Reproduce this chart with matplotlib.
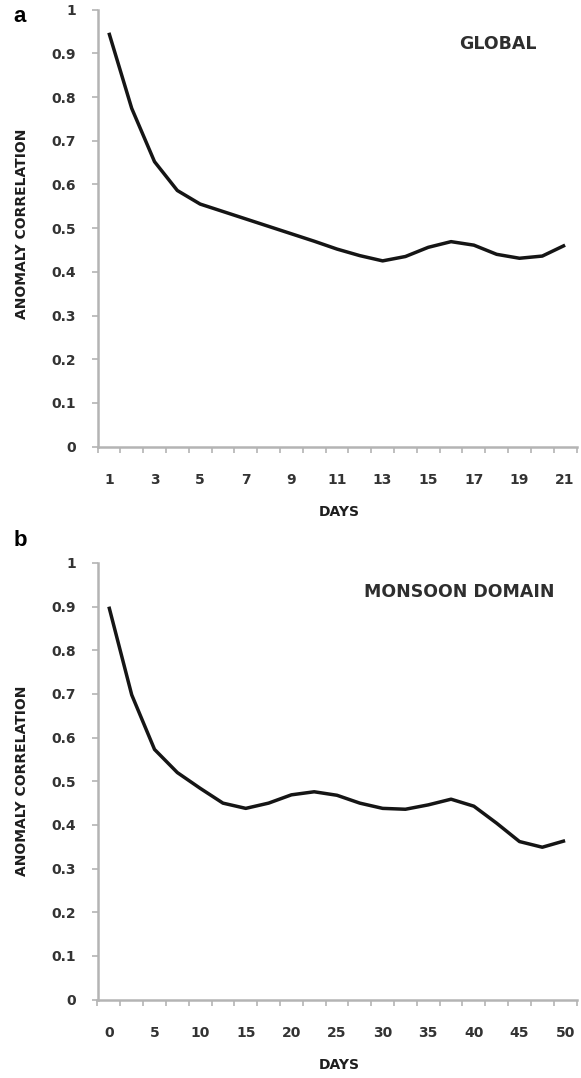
import matplotlib
matplotlib.use("Agg")
import matplotlib.pyplot as plt
import numpy as np

# Forecast lead time (days) and anomaly correlation
global_days = [1, 2, 3, 4, 5, 6, 7, 8, 9, 10, 11, 12, 13, 14, 15, 16, 17, 18, 19, 20, 21]
global_ac = [0.947, 0.774, 0.652, 0.586, 0.555, 0.538, 0.521, 0.504, 0.487, 0.470,
             0.452, 0.437, 0.425, 0.435, 0.456, 0.469, 0.461, 0.440, 0.431, 0.436, 0.461]

monsoon_days = [0, 2.5, 5, 7.5, 10, 12.5, 15, 17.5, 20, 22.5, 25, 27.5, 30, 32.5,
                35, 37.5, 40, 42.5, 45, 47.5, 50]
monsoon_ac = [0.900, 0.698, 0.573, 0.520, 0.484, 0.450, 0.438, 0.450, 0.469, 0.476,
              0.468, 0.450, 0.438, 0.436, 0.446, 0.459, 0.443, 0.404, 0.362, 0.349, 0.364]

y_ticks = [0, 0.1, 0.2, 0.3, 0.4, 0.5, 0.6, 0.7, 0.8, 0.9, 1]
y_tick_labels = ["0", "0.1", "0.2", "0.3", "0.4", "0.5", "0.6", "0.7", "0.8", "0.9", "1"]
global_xticks = [1, 3, 5, 7, 9, 11, 13, 15, 17, 19, 21]
monsoon_xticks = [0, 5, 10, 15, 20, 25, 30, 35, 40, 45, 50]

W, H = 581, 1078
fig = plt.figure(figsize=(W / 100, H / 100), dpi=100)
fig.patch.set_facecolor("white")

AXIS_C = "#b4b4b4"
TEXT_C = "#333333"
FONT = "DejaVu Sans"


def px_rect(x0, y_top, x1, y_bot):
    return [x0 / W, 1 - y_bot / H, (x1 - x0) / W, (y_bot - y_top) / H]


def style_axes(ax, x, y, xlim, major, minor, labels):
    ax.plot(x, y, color="#151515", lw=2.5, solid_joinstyle="round",
            solid_capstyle="butt", zorder=3)
    ax.set_xlim(*xlim)
    ax.set_ylim(0, 1)
    for s in ("top", "right"):
        ax.spines[s].set_visible(False)
    for s in ("left", "bottom"):
        ax.spines[s].set_color(AXIS_C)
        ax.spines[s].set_linewidth(1.8)
    ax.set_yticks(y_ticks)
    ax.set_yticklabels(y_tick_labels)
    ax.set_xticks(major)
    ax.set_xticklabels([str(v) for v in labels])
    ax.set_xticks(minor, minor=True)
    ax.tick_params(axis="y", direction="out", length=4.5, width=1.2,
                   color=AXIS_C, pad=11, labelsize=10, labelcolor=TEXT_C)
    ax.tick_params(axis="x", which="major", length=0, pad=19,
                   labelsize=10, labelcolor=TEXT_C)
    ax.tick_params(axis="x", which="minor", direction="out", length=4,
                   width=1.2, color=AXIS_C)
    for lab in ax.get_xticklabels() + ax.get_yticklabels():
        lab.set_fontweight("bold")
        lab.set_family(FONT)


# Panel a: global
ax1 = fig.add_axes(px_rect(97.5, 9.6, 576.5, 446.6))
g_minor = np.arange(0.5, 22.0, 1.0)
style_axes(ax1, global_days, global_ac, (0.5, 21.5), global_xticks, g_minor, global_xticks)

# Panel b: monsoon domain
ax2 = fig.add_axes(px_rect(97.5, 563.0, 576.5, 999.6))
m_minor = np.arange(-1.25, 52.0, 2.5)
style_axes(ax2, monsoon_days, monsoon_ac, (-1.25, 51.25), monsoon_xticks, m_minor, monsoon_xticks)


def ftext(x, y, s, **kw):
    fig.text(x / W, 1 - y / H, s, **kw)


ftext(20, 16, "a", family="Liberation Sans", fontweight="bold", fontsize=16,
      ha="center", va="center")
ftext(20, 541, "b", family="Liberation Sans", fontweight="bold", fontsize=16,
      ha="center", va="center")

ftext(498, 44, "GLOBAL", family=FONT, fontweight="bold", fontsize=12.5,
      color="#2e2e2e", ha="center", va="center")
ftext(459, 592, "MONSOON DOMAIN", family=FONT, fontweight="bold", fontsize=12.5,
      color="#2e2e2e", ha="center", va="center")

for yc in (512, 1065):
    ftext(339, yc, "DAYS", family=FONT, fontweight="bold", fontsize=10,
          color="#1e1e1e", ha="center", va="center")

for yc in (224, 781):
    ftext(22, yc, "ANOMALY CORRELATION", family=FONT, fontweight="bold",
          fontsize=10, color="#1e1e1e", ha="center", va="center", rotation=90)

fig.savefig("out.png", dpi=100, facecolor="white")
